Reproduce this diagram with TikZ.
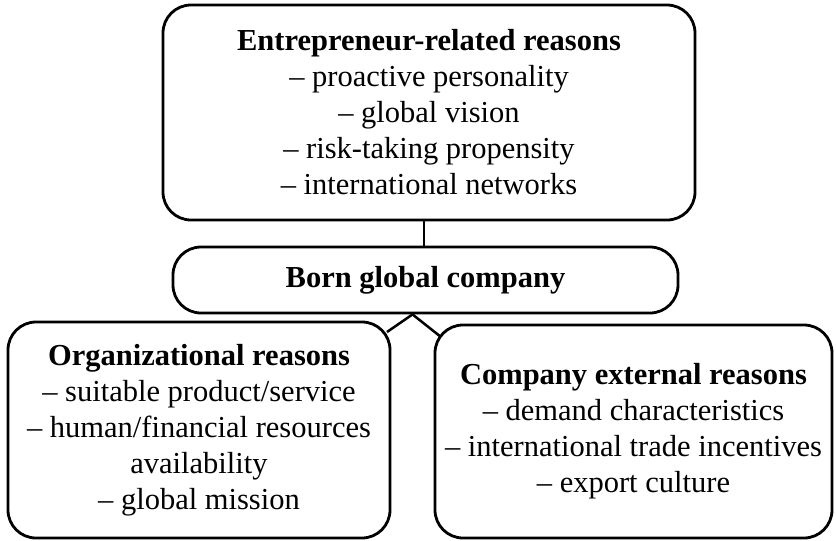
\documentclass[tikz,border=0pt]{standalone}
\usepackage{fontspec}
\setmainfont{Liberation Serif}
\begin{document}
\begin{tikzpicture}[x=1pt, y=-1pt,
  reasonbox/.style = {draw, line width=2.8pt, rounded corners=28pt, fill=white,
    align=center, inner sep=0pt, font=\fontsize{30.5}{36}\selectfont},
  link/.style = {line width=2.5pt}]
  \useasboundingbox (0,0) rectangle (836,541);
  % company in the middle
  \node[reasonbox, minimum width=505pt, minimum height=66pt] (born) at (425.5,280)
  {\textbf{Born global company}};
  % the three groups of reasons
  \node[reasonbox, minimum width=532pt, minimum height=215pt] (entre) at (429,112.5)
  {\textbf{Entrepreneur-related reasons}\\ -- proactive personality\\ -- global vision\\
    -- risk-taking propensity\\ -- international networks};
  \node[reasonbox, minimum width=382pt, minimum height=216pt] (org) at (199,430)
  {\textbf{Organizational reasons}\\ -- suitable product/service\\
    -- human/financial resources\\ availability\\ -- global mission};
  \node[reasonbox, minimum width=397pt, minimum height=213pt] (ext) at (633.5,431.5)
  {\textbf{Company external reasons}\\ -- demand characteristics\\
    -- international trade incentives\\ -- export culture};
  % links between the boxes
  \coordinate (apex) at ([xshift=-13pt]born.south);
  \coordinate (orgjoin) at (387,332);
  \coordinate (extjoin) at (441,337);
  \draw[link] ([xshift=-1.5pt]born.north) -- ([xshift=-1.5pt]born.north |- entre.south);
  \draw[link] (apex) -- (orgjoin);
  \draw[link] (apex) -- (extjoin);
\end{tikzpicture}
\end{document}
